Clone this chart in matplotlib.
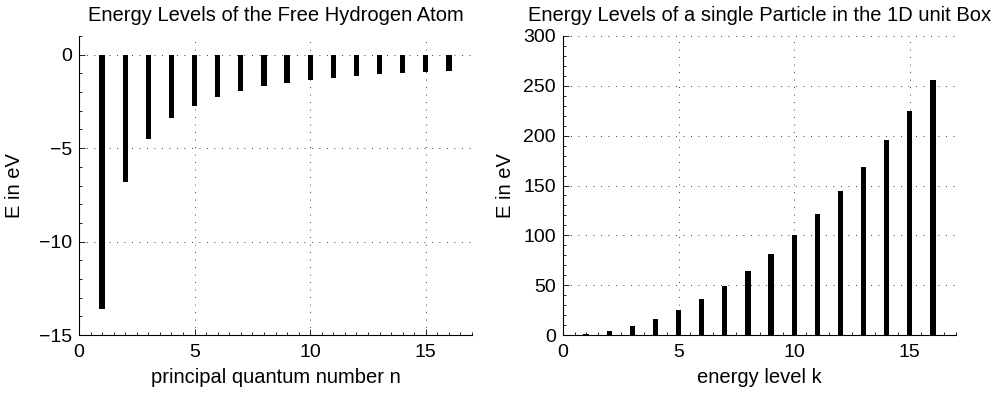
import numpy as np
import matplotlib.pyplot as plt
from matplotlib.ticker import MultipleLocator

plt.rcParams['font.family'] = ['Liberation Sans', 'DejaVu Sans']

# energy levels of hydrogen (eV), n = 1..16
n = np.arange(1, 17)
E_hydrogen = [-13.6, -6.8, -4.53, -3.4, -2.72, -2.27, -1.94, -1.7,
              -1.51, -1.36, -1.24, -1.13, -1.05, -0.97, -0.91, -0.85]

# energy levels of a particle in the 1D unit box, k = 1..16
k = np.arange(1, 17)
E_box = [1, 4, 9, 16, 25, 36, 49, 64, 81, 100, 121, 144, 169, 196, 225, 256]

fig = plt.figure(figsize=(9.96, 3.94), dpi=100)
ax1 = fig.add_axes([79 / 996, 1 - 335 / 394, 393 / 996, 299 / 394])
ax2 = fig.add_axes([563 / 996, 1 - 335 / 394, 393 / 996, 299 / 394])


def style(ax):
    for s in ['top', 'right']:
        ax.spines[s].set_visible(False)
    ax.spines['left'].set_linewidth(0.8)
    ax.spines['bottom'].set_linewidth(0.8)
    ax.tick_params(direction='in', which='both', length=4, width=0.6,
                   labelsize=14, pad=5)
    ax.tick_params(axis='x', pad=6.5)
    ax.tick_params(which='minor', length=2)
    ax.grid(True, linestyle=(0, (1, 8)), color='black', linewidth=0.6)
    ax.set_axisbelow(True)
    ax.xaxis.set_minor_locator(MultipleLocator(0.5))


ax1.bar(n, E_hydrogen, width=0.23, color='black')
ax1.set_xlim(0, 17)
ax1.set_ylim(-15, 1)
ax1.set_xticks([0, 5, 10, 15])
ax1.set_yticks([-15, -10, -5, 0])
ax1.yaxis.set_minor_locator(MultipleLocator(1))
style(ax1)
ax1.set_xlabel('principal quantum number n', fontsize=14.5, labelpad=5)
ax1.set_ylabel('E in eV', fontsize=14.5, labelpad=11)
ax1.set_title('Energy Levels of the Free Hydrogen Atom', fontsize=14.5, pad=11)

ax2.bar(k, E_box, width=0.23, color='black')
ax2.set_xlim(0, 17)
ax2.set_ylim(0, 300)
ax2.set_xticks([0, 5, 10, 15])
ax2.set_yticks([0, 50, 100, 150, 200, 250, 300])
ax2.yaxis.set_minor_locator(MultipleLocator(10))
style(ax2)
ax2.set_xlabel('energy level k', fontsize=14.5, labelpad=5)
ax2.set_ylabel('E in eV', fontsize=14.5, labelpad=6)
ax2.set_title('Energy Levels of a single Particle in the 1D unit Box',
              fontsize=14.5, pad=11)

fig.savefig('out.png', dpi=100)
